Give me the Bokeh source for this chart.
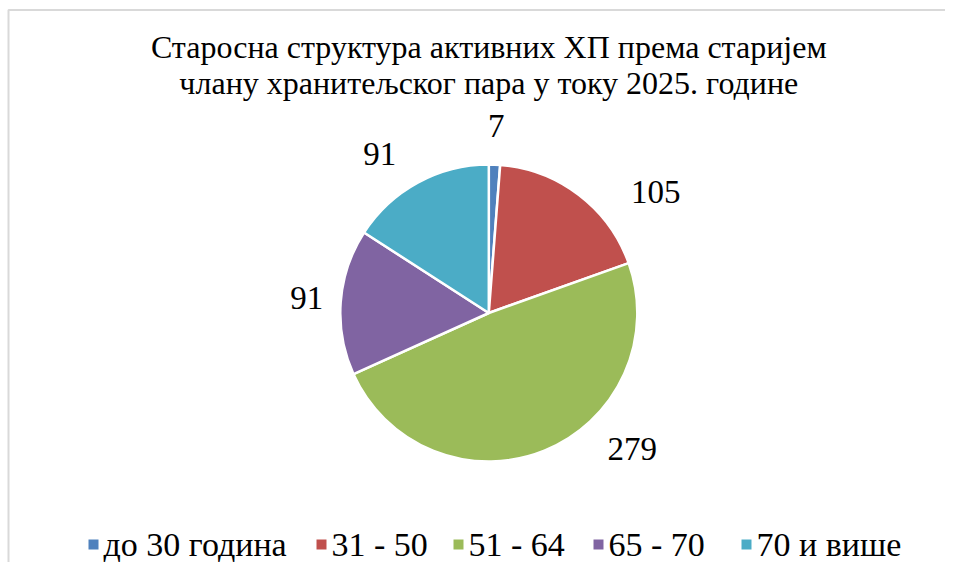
import numpy as np
from bokeh.plotting import figure
from bokeh.models import Range1d, ColumnDataSource
from bokeh.core.properties import value
from bokeh.embed import file_html
from bokeh.resources import INLINE

# ---- data ----
categories = ["до 30 година", "31 - 50", "51 - 64", "65 - 70", "70 и више"]
counts = [7, 105, 279, 91, 91]
colors = ["#4F81BD", "#C0504D", "#9BBB59", "#8064A2", "#4BACC6"]
title_lines = ["Старосна структура активних ХП према старијем",
               "члану хранитељског пара у току 2025. године"]

# ---- layout / style constants ----
W, H = 945, 562
CX, CY, R = 488.3, 249.5, 148.5
FONT = "Liberation Serif"
# label placement (Excel best-fit): angular nudge (deg) and radial factor
label_nudge_deg = [0.1, 16.6, -24.6, 0.4, -5.8]
label_rfac = [1.26, 1.39, 1.33, 1.23, 1.30]
# legend layout (left edge of each legend key, px)
legend_key_left = [88, 316, 453, 593, 741]
LEGEND_Y = 18
KEY = 10

vals = np.array(counts, dtype=float)
frac = vals / vals.sum()
cum = np.cumsum(frac)
prev = np.concatenate([[0.0], cum[:-1]])
start = np.pi / 2 - 2 * np.pi * prev
end = np.pi / 2 - 2 * np.pi * cum

src = ColumnDataSource(dict(cat=categories, val=counts, color=colors,
                            start=start, end=end))

p = figure(width=W, height=H, output_backend="svg", toolbar_location=None,
           x_range=Range1d(0, W), y_range=Range1d(0, H), min_border=0,
           x_axis_location=None, y_axis_location=None,
           outline_line_color=None)
p.grid.visible = False
p.background_fill_color = "white"
p.border_fill_color = "white"

# chart frame (top & left edges visible)
p.line(x=[8, 8, W], y=[0, H - 9.5, H - 9.5], line_color="#D9D9D9", line_width=2)

wr = p.wedge(x=CX, y=CY, radius=R, start_angle="start", end_angle="end",
             direction="clock", fill_color="color", line_color="white",
             line_width=2.5, source=src)

# data labels
mid = 2 * np.pi * (prev + cum) / 2 + np.radians(label_nudge_deg)
lx = CX + R * np.array(label_rfac) * np.sin(mid)
ly = CY + R * np.array(label_rfac) * np.cos(mid)
p.text(x=lx, y=ly, text=[str(v) for v in counts], text_font=value(FONT),
       text_font_size="33px", text_align="center", text_baseline="middle",
       text_color="black")

# title
p.text(x=[CX, CX], y=[516, 480], text=title_lines, text_font=value(FONT),
       text_font_size="32px", text_align="center", text_baseline="middle",
       text_color="black")

# legend (keys + labels, serif font)
kl = np.array(legend_key_left, dtype=float)
leg = ColumnDataSource(dict(kx=kl + KEY / 2, tx=kl + KEY + 5,
                            ky=[LEGEND_Y] * len(categories),
                            cat=categories, color=colors))
p.rect(x="kx", y="ky", width=KEY, height=KEY, fill_color="color",
       line_color=None, source=leg)
p.text(x="tx", y="ky", text="cat", text_font=value(FONT),
       text_font_size="34px", text_align="left", text_baseline="middle",
       text_color="black", source=leg)

open("out.html", "w").write(file_html(p, INLINE))
